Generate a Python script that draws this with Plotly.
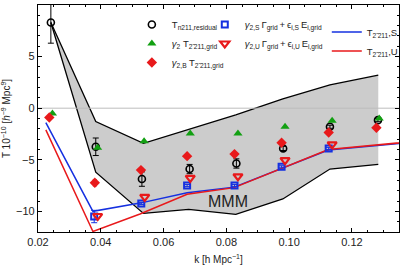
import plotly.graph_objects as go

# ---- data ----
# MMM band
band_k = [0.0241, 0.0384, 0.0536, 0.068, 0.083, 0.098, 0.113, 0.1284]
band_upper = [8.3, -1.3, -3.4, -2.05, -0.65, 0.9, 2.25, 3.2]
band_lower = [8.3, -6.2, -10.2, -9.8, -10.3, -8.8, -5.9, -5.45]

# T_n211,residual (circles)
res_k = [0.0241, 0.0384, 0.0531, 0.0683, 0.0832, 0.0981, 0.113, 0.1283]
res_T = [8.3, -3.74, -6.87, -5.9, -5.36, -3.9, -1.8, -1.16]
res_err = [2.0, 0.85, 0.7, 0.45, 0.45, 0.2, 0.15, 0.15]

# gamma2 T grid (green triangles)
g2_k = [0.0246, 0.039, 0.0538, 0.0685, 0.0837, 0.0987, 0.1137, 0.1287]
g2_T = [-0.52, -3.84, -3.2, -2.45, -2.45, -1.8, -1.23, -1.0]

# gamma2,B T grid (red diamonds)
g2b_k = [0.0236, 0.0381, 0.0528, 0.0675, 0.0826, 0.0976, 0.1126, 0.1278]
g2b_T = [-0.9, -7.23, -6.0, -4.65, -4.45, -3.35, -2.35, -1.9]
g2b_err = [0.2, 0.3, 0.15, 0.1, 0.1, 0.1, 0.1, 0.1]

# gamma2,S Gamma + eps E (blue squares)
g2s_k = [0.0379, 0.0529, 0.0675, 0.0826, 0.0976, 0.1126]
g2s_T = [-10.5, -9.23, -7.5, -7.5, -5.68, -3.9]
g2s_err = [0.6, 0.1, 0.1, 0.1, 0.1, 0.1]

# gamma2,U Gamma + eps E (red down triangles)
g2u_k = [0.039, 0.054, 0.0685, 0.0837, 0.0987, 0.1137]
g2u_T = [-10.45, -8.6, -6.75, -6.6, -5.03, -3.5]

# model curves
line_k = [0.0225, 0.0375, 0.0525, 0.0675, 0.0825, 0.0975, 0.1125, 0.1425]
line_S = [-1.4, -10.0, -9.2, -8.2, -7.65, -5.85, -4.05, -3.2]
line_U = [-2.1, -11.95, -10.25, -8.35, -7.7, -5.85, -4.0, -3.15]

x_range = [0.02, 0.135]
y_range = [-12, 10]
x_ticks = [0.02, 0.04, 0.06, 0.08, 0.10, 0.12]
y_ticks = [-10, -5, 0, 5, 10]

BLACK = "black"
GREEN = "#12a012"
RED = "#e8191b"
BLUE = "#1530e0"
FONT = "Liberation Sans, Arial, sans-serif"
TS = "\u2009"  # thin space

fig = go.Figure()

# band
fig.add_trace(go.Scatter(x=band_k, y=band_lower, mode="lines",
                         line=dict(color=BLACK, width=1.3), showlegend=False, hoverinfo="skip"))
fig.add_trace(go.Scatter(x=band_k, y=band_upper, mode="lines", fill="tonexty",
                         fillcolor="#cccccc",
                         line=dict(color=BLACK, width=1.3), showlegend=False, hoverinfo="skip"))
# zero line
fig.add_trace(go.Scatter(x=x_range, y=[0, 0], mode="lines",
                         line=dict(color="#bdbdbd", width=1), showlegend=False, hoverinfo="skip"))

# model lines
fig.add_trace(go.Scatter(x=line_k, y=line_S, mode="lines", name=f"T<sub>2̃{TS}211</sub>,S",
                         line=dict(color=BLUE, width=1.5), legend="legend3", legendgroup="ls"))
fig.add_trace(go.Scatter(x=line_k, y=line_U, mode="lines", name=f"T<sub>2̃{TS}211</sub>,U",
                         line=dict(color=RED, width=1.5), legend="legend3", legendgroup="lu"))

# markers
fig.add_trace(go.Scatter(x=res_k, y=res_T, mode="markers", name="T<sub>n211,residual</sub>",
                         marker=dict(symbol="circle-open", size=7, color=BLACK, line=dict(width=1.6)),
                         error_y=dict(type="data", array=res_err, color=BLACK, thickness=1, width=3),
                         legend="legend", legendgroup="a"))
fig.add_trace(go.Scatter(x=g2_k, y=g2_T, mode="markers", name=f"<i>γ</i><sub>2</sub> T<sub>2̃{TS}211,grid</sub>",
                         marker=dict(symbol="triangle-up", size=8, color=GREEN),
                         legend="legend", legendgroup="b"))
fig.add_trace(go.Scatter(x=g2b_k, y=g2b_T, mode="markers", name=f"<i>γ</i><sub>2,B</sub> T<sub>2̃{TS}211,grid</sub>",
                         marker=dict(symbol="diamond", size=8, color=RED),
                         error_y=dict(type="data", array=g2b_err, color=RED, thickness=1, width=2),
                         legend="legend", legendgroup="c"))
fig.add_trace(go.Scatter(x=g2s_k, y=g2s_T, mode="markers",
                         name=f"<i>γ</i><sub>2,S</sub>{TS}Γ<sub>grid</sub>{TS}+{TS}ϵ<sub>i,S</sub>{TS}E<sub>i,grid</sub>",
                         marker=dict(symbol="square-open", size=6, color=BLUE, line=dict(width=2)),
                         error_y=dict(type="data", array=g2s_err, color=BLUE, thickness=1, width=3),
                         legend="legend2", legendgroup="d"))
fig.add_trace(go.Scatter(x=g2u_k, y=g2u_T, mode="markers",
                         name=f"<i>γ</i><sub>2,U</sub>{TS}Γ<sub>grid</sub>{TS}+{TS}ϵ<sub>i,U</sub>{TS}E<sub>i,grid</sub>",
                         marker=dict(symbol="triangle-down-open", size=8, color=RED, line=dict(width=2.2)),
                         legend="legend2", legendgroup="e"))

fig.add_annotation(x=0.0805, y=-9.07, text="MMM", showarrow=False,
                   font=dict(family=FONT, size=16, color="#222222"))

leg_common = dict(bgcolor="rgba(0,0,0,0)", font=dict(family=FONT, size=9.5, color="#222222"),
                  xanchor="left", yanchor="top", tracegroupgap=0, itemwidth=30)

fig.update_layout(
    width=407, height=266,
    margin=dict(l=38, r=3, t=5, b=34),
    paper_bgcolor="white", plot_bgcolor="white",
    font=dict(family=FONT, size=11, color="#222222"),
    legend=dict(x=0.26, y=0.978, **leg_common),
    legend2=dict(x=0.462, y=0.978, **leg_common),
    legend3=dict(x=0.8, y=0.945, **leg_common),
    xaxis=dict(range=x_range, tickvals=x_ticks, tickformat=".2f",
               ticks="inside", ticklen=4, tickwidth=1, tickcolor=BLACK,
               minor=dict(dtick=0.005, ticks="inside", ticklen=2, tickcolor=BLACK),
               showline=True, linecolor=BLACK, linewidth=1.3, mirror="allticks",
               showgrid=False, zeroline=False,
               tickfont=dict(size=11),
               title=dict(text="k [h Mpc<sup>−1</sup>]", font=dict(size=10), standoff=8)),
    yaxis=dict(range=y_range, tickvals=y_ticks,
               ticks="inside", ticklen=4, tickwidth=1, tickcolor=BLACK,
               minor=dict(dtick=1, ticks="inside", ticklen=2, tickcolor=BLACK),
               showline=True, linecolor=BLACK, linewidth=1.3, mirror="allticks",
               showgrid=False, zeroline=False,
               tickfont=dict(size=11),
               title=dict(text="T 10<sup>−10</sup> [<i>h</i><sup>−9</sup> Mpc<sup>9</sup>]",
                          font=dict(size=10), standoff=4)),
)

fig.write_html("out.html", config={"displayModeBar": False},
               post_script="document.body.style.margin='0';")
